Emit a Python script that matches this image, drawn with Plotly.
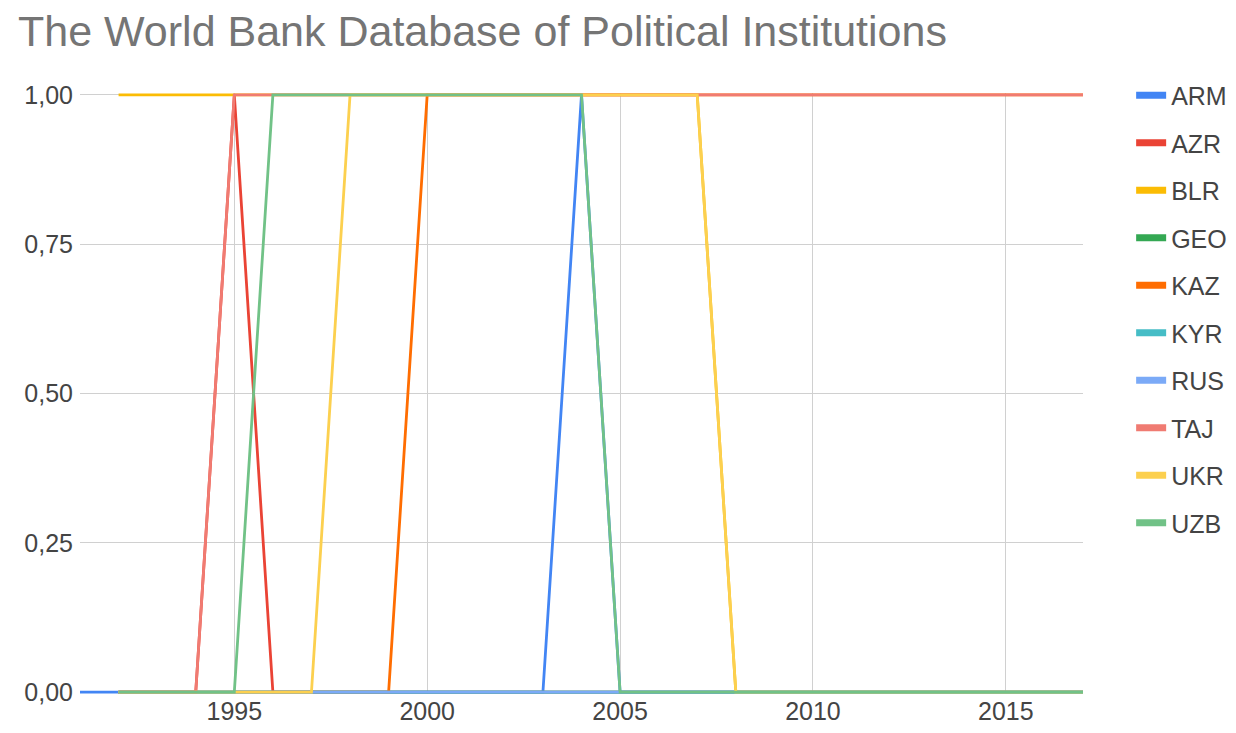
import plotly.graph_objects as go

# ---- data ----
years_1991 = list(range(1991, 2018))
years_1992 = list(range(1992, 2018))

series_names = ["ARM", "AZR", "BLR", "GEO", "KAZ", "KYR", "RUS", "TAJ", "UKR", "UZB"]
series_colors = ["#4285F4", "#EA4335", "#FBBC04", "#34A853", "#FF6D01",
                 "#46BDC6", "#7BAAF7", "#F07B72", "#FCD04F", "#71C287"]

# values per year (1 = yes, 0 = no)
ARM = [0]*13 + [1] + [0]*13                       # 1991-2017, 1 in 2004
AZR = [0, 0, 0, 1] + [0]*22                       # 1992-2017, 1 in 1995
BLR = [1]*16 + [0]*10                             # 1992-2017, 1 through 2007
GEO = [0]*26                                      # 1992-2017
KAZ = [0]*8 + [1]*18                              # 1992-2017, 1 from 2000
KYR = [0]*26                                      # 1992-2017
RUS = [0]*26                                      # 1992-2017
TAJ = [0, 0, 0] + [1]*23                          # 1992-2017, 1 from 1995
UKR = [0]*6 + [1]*10 + [0]*10                     # 1992-2017, 1 in 1998-2007
UZB = [0]*4 + [1]*9 + [0]*13                      # 1992-2017, 1 in 1996-2004

series_values = [ARM, AZR, BLR, GEO, KAZ, KYR, RUS, TAJ, UKR, UZB]
series_years = [years_1991] + [years_1992]*9

y_tickvals = [0, 0.25, 0.5, 0.75, 1.0]
y_ticktext = ["0,00", "0,25", "0,50", "0,75", "1,00"]
x_tickvals = [1995, 2000, 2005, 2010, 2015]

fig = go.Figure()
for name, color, xs, ys in zip(series_names, series_colors, series_years, series_values):
    fig.add_trace(go.Scatter(
        x=xs, y=ys, mode="lines", name=name, legendgroup=name, showlegend=False,
        line=dict(color=color, width=2.8),
    ))
# legend entries with thicker swatches (no data drawn)
for name, color in zip(series_names, series_colors):
    fig.add_trace(go.Scatter(
        x=[None], y=[None], mode="lines", name=name, legendgroup=name,
        line=dict(color=color, width=7),
    ))

font_family = "Liberation Sans, Arial, sans-serif"
W, H = 1228, 725  # page body has an 8px margin
fig.update_layout(
    width=W, height=H,
    paper_bgcolor="white", plot_bgcolor="white",
    margin=dict(l=72, r=153, t=85, b=39, autoexpand=False),
    title=dict(text="The World Bank Database of Political Institutions",
               x=10/W, xanchor="left", xref="container",
               y=1 - 23/H, yanchor="middle", yref="container",
               font=dict(family=font_family, size=43, color="#757575")),
    font=dict(family=font_family, size=25, color="#444444"),
    xaxis=dict(range=[1991, 2017], tickvals=x_tickvals, showgrid=True,
               gridcolor="#d0d0d0", gridwidth=1.2, zeroline=False, showline=False,
               ticks="", tickfont=dict(size=25, color="#444444")),
    yaxis=dict(range=[-0.003, 1.003], tickvals=y_tickvals, ticktext=y_ticktext,
               showgrid=True, gridcolor="#d0d0d0", gridwidth=1.2, zeroline=False,
               showline=False, ticks="", ticklabelstandoff=6,
               tickfont=dict(size=25, color="#444444")),
    legend=dict(x=1.048, xanchor="left", y=1.034, yanchor="top",
                font=dict(size=25, color="#444444"), tracegroupgap=12,
                itemwidth=30, bgcolor="rgba(0,0,0,0)", maxheight=680),
    showlegend=True,
)

fig.write_html("out.html")
